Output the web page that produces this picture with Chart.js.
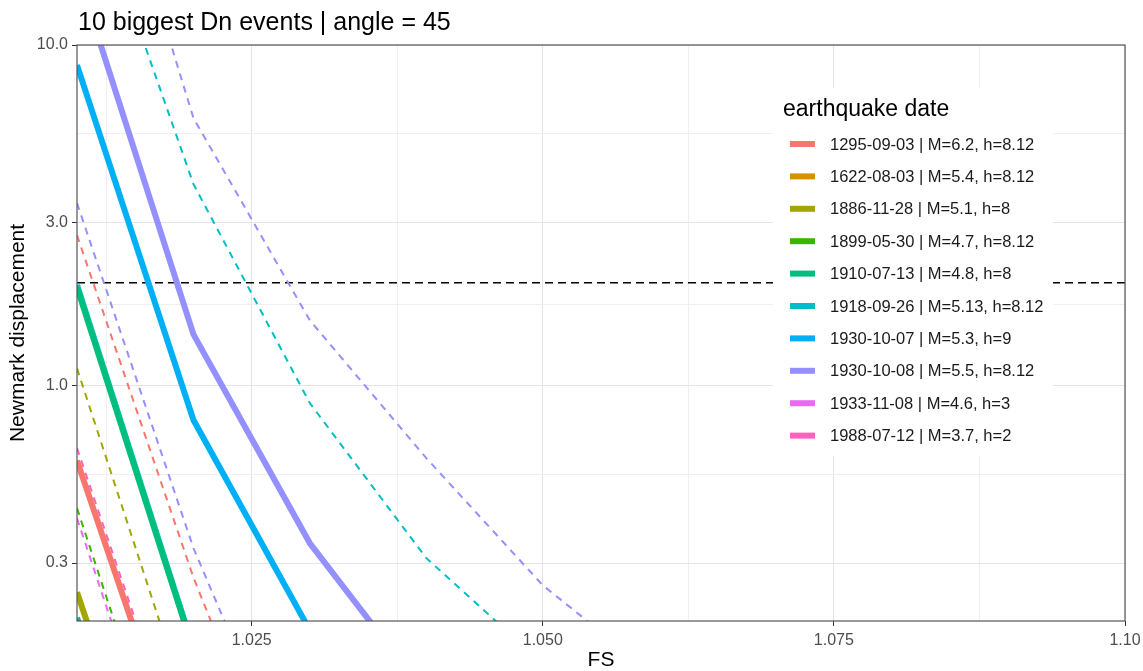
<!DOCTYPE html>
<html>
<head>
<meta charset="utf-8">
<script src="https://cdn.jsdelivr.net/npm/chart.js@4.4.0/dist/chart.umd.min.js"></script>
<style>
  html, body { margin: 0; background: #fff; }
  #wrap { width: 1143px; height: 671px; }
</style>
</head>
<body>
<div id="wrap"><canvas id="myChart"></canvas></div>
<script>
// FS values where Dn was computed
const fsValues = [1.01, 1.02, 1.03, 1.04, 1.05, 1.06];

const eventLabels = [
  '1295-09-03 | M=6.2, h=8.12',
  '1622-08-03 | M=5.4, h=8.12',
  '1886-11-28 | M=5.1, h=8',
  '1899-05-30 | M=4.7, h=8.12',
  '1910-07-13 | M=4.8, h=8',
  '1918-09-26 | M=5.13, h=8.12',
  '1930-10-07 | M=5.3, h=9',
  '1930-10-08 | M=5.5, h=8.12',
  '1933-11-08 | M=4.6, h=3',
  '1988-07-12 | M=3.7, h=2'
];
const eventColors = ['#F8766D', '#D89000', '#A3A500', '#39B600', '#00BF7D',
                     '#00BFC4', '#00B0F6', '#9590FF', '#E76BF3', '#FF62BC'];

// solid lines (Newmark displacement)
const solid1295 = [0.60, 0.059];
const solid1886 = [0.246, 0.024];
const solid1910 = [1.94, 0.166];
const solid1910Low = [0.207, 0.02];
const solid1918 = [1.97, 0.168];
const solid1930a = [8.73, 0.79, 0.19, 0.068];
const solid1930b = [16.5, 1.41, 0.343, 0.123];

// dashed lines
const dash1295 = [2.76, 0.272, 0.038];
const dash1886 = [1.12, 0.10];
const dash1899 = [0.435, 0.04];
const dash1918 = [37, 3.90, 0.885, 0.31, 0.152];
const dash1930b = [80, 6.1, 1.55, 0.61, 0.258, 0.137];
const dash1930bLow = [3.43, 0.332, 0.052];
const dash1933 = [0.406, 0.038];
const dash1988 = [0.653, 0.064];

const thresholdValue = 2;

const xTicks = [1.0125, 1.025, 1.0375, 1.05, 1.0625, 1.075, 1.0875, 1.10];
const xTickLabels = ['', '1.025', '', '1.050', '', '1.075', '', '1.10'];
const yTicks = [0.3, 0.5477, 1, 1.732, 3, 5.477, 10];
const yTickLabels = ['0.3', '', '1.0', '', '3.0', '', '10.0'];

function toPoints(values) {
  return values.map((v, i) => ({ x: fsValues[i], y: v }));
}

function solidLine(values, colorIdx) {
  return {
    data: toPoints(values),
    borderColor: eventColors[colorIdx],
    borderWidth: 6,
    pointRadius: 0,
    tension: 0,
    clip: 0
  };
}
function dashedLine(values, colorIdx) {
  return {
    data: toPoints(values),
    borderColor: eventColors[colorIdx],
    borderWidth: 2,
    borderDash: [7, 6],
    pointRadius: 0,
    tension: 0,
    clip: 0
  };
}

const datasets = [
  solidLine(solid1910Low, 4),
  solidLine(solid1886, 2),
  solidLine(solid1910, 4),
  solidLine(solid1918, 5),
  solidLine(solid1295, 0),
  solidLine(solid1930a, 6),
  solidLine(solid1930b, 7),
  dashedLine(dash1295, 0),
  dashedLine(dash1886, 2),
  dashedLine(dash1899, 3),
  dashedLine(dash1918, 5),
  dashedLine(dash1930b, 7),
  dashedLine(dash1930bLow, 7),
  dashedLine(dash1933, 8),
  dashedLine(dash1988, 9),
  {
    data: [{ x: 1.01, y: thresholdValue }, { x: 1.10, y: thresholdValue }],
    borderColor: '#000',
    borderWidth: 1.6,
    borderDash: [8, 5],
    pointRadius: 0,
    clip: 0
  }
];

const FONT = '"Liberation Sans", Arial, sans-serif';

const decorPlugin = {
  id: 'decor',
  afterDatasetsDraw(chart) {
    const ctx = chart.ctx;
    // legend box
    ctx.save();
    ctx.fillStyle = '#fff';
    ctx.fillRect(773, 88, 280, 368);
    ctx.fillStyle = '#000';
    ctx.font = '23px ' + FONT;
    ctx.textBaseline = 'middle';
    ctx.fillText('earthquake date', 783, 110);
    ctx.font = '16.5px ' + FONT;
    eventLabels.forEach((label, i) => {
      const y = 144 + i * 32.4;
      ctx.strokeStyle = eventColors[i];
      ctx.lineWidth = 6;
      ctx.beginPath();
      ctx.moveTo(790, y);
      ctx.lineTo(815, y);
      ctx.stroke();
      ctx.fillStyle = '#1a1a1a';
      ctx.fillText(label, 830, y + 1);
    });
    ctx.restore();
  },
  afterDraw(chart) {
    const ctx = chart.ctx;
    const a = chart.chartArea;
    ctx.save();
    ctx.strokeStyle = '#555';
    ctx.lineWidth = 1.2;
    ctx.strokeRect(a.left, a.top, a.right - a.left, a.bottom - a.top);
    ctx.fillStyle = '#000';
    ctx.font = '25px ' + FONT;
    ctx.textBaseline = 'alphabetic';
    ctx.fillText('10 biggest Dn events | angle = 45', 78, 30);
    ctx.restore();
  }
};

function gridColor(ctx) {
  return ctx.tick && ctx.tick.minor ? '#EFEFEF' : '#E4E4E4';
}
function tickColor(ctx) {
  return ctx.tick && ctx.tick.minor ? 'rgba(0,0,0,0)' : '#333';
}

new Chart(document.querySelector('#myChart'), {
  type: 'line',
  data: { datasets: datasets },
  options: {
    responsive: true,
    maintainAspectRatio: false,
    animation: false,
    devicePixelRatio: 1,
    layout: { padding: { left: 0, right: 18, top: 45, bottom: 0 } },
    plugins: {
      legend: { display: false },
      title: { display: false },
      tooltip: { enabled: false }
    },
    scales: {
      x: {
        type: 'linear',
        min: 1.01,
        max: 1.10,
        afterBuildTicks(scale) {
          scale.ticks = xTicks.map((v, i) => ({ value: v, minor: xTickLabels[i] === '' }));
        },
        afterFit(scale) {
          scale.height = 50;
          scale.paddingLeft = 0;
          scale.paddingRight = 0;
        },
        ticks: {
          autoSkip: false,
          maxRotation: 0,
          padding: 5,
          color: '#4D4D4D',
          font: { family: FONT, size: 16 },
          callback: (v, i) => xTickLabels[i]
        },
        grid: { color: gridColor, tickColor: tickColor, tickLength: 5, lineWidth: 1 },
        border: { display: false },
        title: {
          display: true,
          text: 'FS',
          color: '#000',
          font: { family: FONT, size: 21 },
          padding: { top: 0, bottom: -2 }
        }
      },
      y: {
        type: 'logarithmic',
        min: 0.2026,
        max: 10,
        afterBuildTicks(scale) {
          scale.ticks = yTicks.map((v, i) => ({ value: v, minor: yTickLabels[i] === '' }));
        },
        afterFit(scale) {
          scale.width = 77;
          scale.paddingTop = 0;
          scale.paddingBottom = 0;
        },
        ticks: {
          autoSkip: false,
          padding: 4,
          color: '#4D4D4D',
          font: { family: FONT, size: 16 },
          callback: (v, i) => yTickLabels[i]
        },
        grid: { color: gridColor, tickColor: tickColor, tickLength: 5, lineWidth: 1 },
        border: { display: false },
        title: {
          display: true,
          text: 'Newmark displacement',
          color: '#000',
          font: { family: FONT, size: 21 },
          padding: { top: 6, bottom: 0 }
        }
      }
    }
  },
  plugins: [decorPlugin]
});
</script>
</body>
</html>
